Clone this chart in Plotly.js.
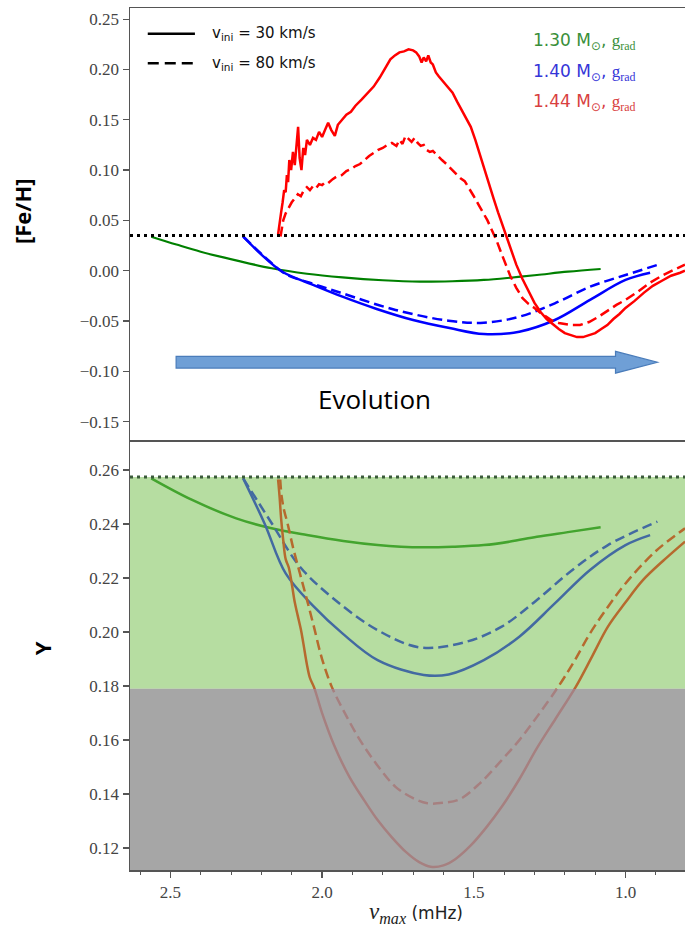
<!DOCTYPE html>
<html><head><meta charset="utf-8">
<script src="https://cdn.plot.ly/plotly-3.0.1.min.js"></script>
<style>html,body{margin:0;padding:0;background:#fff;}#chart{width:685px;height:926px;}</style>
</head><body><div id="chart"></div>
<script>
// ---------- DATA ----------
// Top panel: [Fe/H] vs nu_max (mHz)
const feh_green_30_x = [2.563, 2.48, 2.40, 2.28, 2.166, 2.05, 1.933, 1.80, 1.677, 1.57, 1.467, 1.38, 1.292, 1.19, 1.082];
const feh_green_30_y = [0.0338, 0.026, 0.0189, 0.010, 0.0024, -0.003, -0.0066, -0.0095, -0.0109, -0.0105, -0.0092, -0.007, -0.0043, -0.001, 0.0017];

const feh_blue_30_x = [2.260, 2.20, 2.131, 2.03, 1.933, 1.82, 1.700, 1.58, 1.467, 1.350, 1.233, 1.117, 1.000, 0.919];
const feh_blue_30_y = [0.034, 0.016, -0.001, -0.014, -0.0258, -0.038, -0.049, -0.057, -0.063, -0.0606, -0.049, -0.029, -0.0092, -0.002];

const feh_blue_80_x = [2.260, 2.19, 2.120, 2.03, 1.933, 1.758, 1.583, 1.467, 1.350, 1.233, 1.117, 1.000, 0.895];
const feh_blue_80_y = [0.034, 0.014, -0.0033, -0.013, -0.0225, -0.039, -0.0497, -0.0517, -0.0457, -0.0324, -0.0159, -0.0043, 0.0057];

const feh_red_30_x = [2.145, 2.140, 2.135, 2.130, 2.125, 2.120, 2.116, 2.112, 2.108, 2.102, 2.096, 2.090, 2.084, 2.079, 2.074, 2.068, 2.062, 2.056, 2.050, 2.040, 2.030, 2.020, 2.010, 2.000, 1.990, 1.980, 1.970, 1.958, 1.948, 1.935, 1.920, 1.905, 1.890, 1.870, 1.850, 1.830, 1.810, 1.790, 1.775, 1.760, 1.745, 1.730, 1.715, 1.700, 1.690, 1.680, 1.672, 1.665, 1.657, 1.650, 1.642, 1.635, 1.625, 1.615, 1.600, 1.585, 1.570, 1.555, 1.540, 1.525, 1.510, 1.495, 1.480, 1.465, 1.450, 1.435, 1.420, 1.400, 1.380, 1.360, 1.340, 1.320, 1.300, 1.280, 1.260, 1.240, 1.220, 1.200, 1.180, 1.160, 1.140, 1.120, 1.100, 1.080, 1.060, 1.040, 1.020, 1.000, 0.970, 0.940, 0.910, 0.880, 0.850, 0.820, 0.804];
const feh_red_30_y = [0.036, 0.045, 0.058, 0.068, 0.080, 0.078, 0.095, 0.088, 0.110, 0.100, 0.118, 0.105, 0.125, 0.143, 0.112, 0.100, 0.122, 0.115, 0.130, 0.125, 0.132, 0.130, 0.138, 0.133, 0.140, 0.147, 0.140, 0.134, 0.145, 0.150, 0.155, 0.158, 0.164, 0.170, 0.176, 0.183, 0.192, 0.202, 0.210, 0.214, 0.217, 0.218, 0.220, 0.219, 0.217, 0.213, 0.207, 0.212, 0.208, 0.214, 0.207, 0.205, 0.197, 0.193, 0.188, 0.183, 0.177, 0.168, 0.160, 0.152, 0.143, 0.130, 0.115, 0.101, 0.087, 0.072, 0.058, 0.040, 0.022, 0.006, -0.008, -0.020, -0.032, -0.041, -0.048, -0.053, -0.058, -0.062, -0.064, -0.066, -0.066, -0.064, -0.062, -0.058, -0.054, -0.048, -0.043, -0.037, -0.030, -0.022, -0.015, -0.010, -0.005, -0.002, 0.000];

const feh_red_80_x = [2.137, 2.133, 2.128, 2.120, 2.110, 2.100, 2.090, 2.080, 2.070, 2.060, 2.050, 2.040, 2.030, 2.020, 2.010, 2.000, 1.990, 1.980, 1.965, 1.950, 1.935, 1.920, 1.905, 1.890, 1.875, 1.860, 1.845, 1.830, 1.815, 1.800, 1.785, 1.770, 1.755, 1.745, 1.735, 1.725, 1.715, 1.705, 1.695, 1.685, 1.675, 1.665, 1.655, 1.645, 1.635, 1.620, 1.605, 1.590, 1.575, 1.560, 1.545, 1.530, 1.515, 1.500, 1.485, 1.470, 1.455, 1.440, 1.425, 1.410, 1.395, 1.380, 1.360, 1.340, 1.320, 1.300, 1.280, 1.260, 1.240, 1.220, 1.200, 1.180, 1.150, 1.120, 1.090, 1.060, 1.030, 1.000, 0.960, 0.920, 0.880, 0.840, 0.804];
const feh_red_80_y = [0.034, 0.042, 0.050, 0.057, 0.063, 0.068, 0.072, 0.076, 0.074, 0.080, 0.083, 0.080, 0.084, 0.082, 0.086, 0.085, 0.088, 0.087, 0.091, 0.094, 0.095, 0.099, 0.101, 0.104, 0.106, 0.110, 0.114, 0.117, 0.120, 0.122, 0.125, 0.127, 0.124, 0.130, 0.126, 0.134, 0.131, 0.128, 0.132, 0.127, 0.124, 0.125, 0.120, 0.118, 0.119, 0.114, 0.110, 0.106, 0.101, 0.097, 0.092, 0.089, 0.082, 0.074, 0.066, 0.058, 0.050, 0.040, 0.030, 0.018, 0.006, -0.005, -0.017, -0.027, -0.033, -0.037, -0.042, -0.046, -0.050, -0.052, -0.053, -0.054, -0.054, -0.051, -0.046, -0.040, -0.034, -0.029, -0.021, -0.012, -0.005, 0.001, 0.006];

// Bottom panel: Y (helium) vs nu_max
const y_green_30_x = [2.563, 2.43, 2.283, 2.17, 2.050, 1.93, 1.817, 1.74, 1.665, 1.57, 1.467, 1.38, 1.292, 1.19, 1.082];
const y_green_30_y = [0.2569, 0.2490, 0.2421, 0.2385, 0.2359, 0.2337, 0.2322, 0.2316, 0.2314, 0.2316, 0.2322, 0.2335, 0.2353, 0.2370, 0.2388];

const y_blue_30_x = [2.260, 2.190, 2.120, 2.027, 1.933, 1.817, 1.665, 1.583, 1.467, 1.350, 1.233, 1.117, 1.000, 0.919];
const y_blue_30_y = [0.2569, 0.2403, 0.2217, 0.2094, 0.1995, 0.1896, 0.1841, 0.1843, 0.1896, 0.1983, 0.2106, 0.2230, 0.2322, 0.2359];

const y_blue_80_x = [2.260, 2.166, 2.073, 1.957, 1.817, 1.677, 1.525, 1.408, 1.292, 1.175, 1.058, 0.895];
const y_blue_80_y = [0.2569, 0.2403, 0.2242, 0.2119, 0.2007, 0.1943, 0.1964, 0.2020, 0.2119, 0.2230, 0.2322, 0.2409];

const y_red_30_x = [2.145, 2.140, 2.135, 2.128, 2.120, 2.110, 2.100, 2.090, 2.080, 2.070, 2.062, 2.050, 2.040, 2.027, 2.000, 1.960, 1.910, 1.860, 1.817, 1.770, 1.723, 1.680, 1.642, 1.600, 1.560, 1.510, 1.460, 1.408, 1.350, 1.292, 1.230, 1.164, 1.110, 1.058, 1.000, 0.942, 0.870, 0.804];
const y_red_30_y = [0.2565, 0.2500, 0.2420, 0.2340, 0.2270, 0.2240, 0.2180, 0.2110, 0.2060, 0.2010, 0.1960, 0.1880, 0.1830, 0.1797, 0.1700, 0.1580, 0.1464, 0.1375, 0.1304, 0.1240, 0.1185, 0.1148, 0.1131, 0.1136, 0.1160, 0.1210, 0.1275, 0.1353, 0.1455, 0.1570, 0.1680, 0.1797, 0.1910, 0.2020, 0.2110, 0.2193, 0.2270, 0.2335];

const y_red_80_x = [2.138, 2.133, 2.125, 2.114, 2.095, 2.073, 2.050, 2.027, 2.000, 1.968, 1.925, 1.875, 1.820, 1.758, 1.700, 1.653, 1.600, 1.548, 1.480, 1.408, 1.350, 1.292, 1.222, 1.170, 1.117, 1.060, 1.000, 0.900, 0.804];
const y_red_80_y = [0.2565, 0.2500, 0.2450, 0.2403, 0.2310, 0.2217, 0.2120, 0.2020, 0.1900, 0.1797, 0.1700, 0.1600, 0.1510, 0.1427, 0.1385, 0.1366, 0.1368, 0.1380, 0.1440, 0.1526, 0.1600, 0.1686, 0.1797, 0.1890, 0.1995, 0.2090, 0.2180, 0.2300, 0.2384];

// Reference levels and bands
const FEH_REF = 0.035;
const Y_REF = 0.2574;
const Y_BAND_LOW = 0.179;
const Y_AXIS_MIN = 0.1119;

// Evolution arrow (data coords of the top panel)
const ARROW_X = [2.481, 1.033, 0.895];       // tail, head base, tip
const ARROW_Y = [-0.091, 0.0058, 0.0108];    // centre, half body, half head

const X_RANGE = [2.633, 0.804];
const FEH_RANGE = [-0.1683, 0.2611];
const Y_RANGE = [Y_AXIS_MIN, 0.2711];

const X_TICKS = [2.5, 2.0, 1.5, 1.0];

// ---------- STYLE ----------
const GREEN = '#008000', BLUE = '#0000ff', RED = '#ff0000';
const DASH = '10px,5px';
function tr(x, y, color, dash, xa, ya, w, shape) {
  return {x: x, y: y, xaxis: xa, yaxis: ya, type: 'scatter', mode: 'lines',
    line: {color: color, width: w || 2.5, dash: dash || 'solid', shape: shape || 'linear', smoothing: 1},
    hoverinfo: 'skip', showlegend: false};
}
const traces = [
  tr(feh_green_30_x, feh_green_30_y, GREEN, null, 'x2', 'y2', 2.2, 'spline'),
  tr(feh_blue_30_x, feh_blue_30_y, BLUE, null, 'x2', 'y2', 2.5, 'spline'),
  tr(feh_blue_80_x, feh_blue_80_y, BLUE, DASH, 'x2', 'y2', 2.5, 'spline'),
  tr(feh_red_30_x, feh_red_30_y, RED, null, 'x2', 'y2', 2.5),
  tr(feh_red_80_x, feh_red_80_y, RED, DASH, 'x2', 'y2', 2.5),
  tr(y_green_30_x, y_green_30_y, GREEN, null, 'x', 'y', 2.5, 'spline'),
  tr(y_blue_30_x, y_blue_30_y, BLUE, null, 'x', 'y', 2.5, 'spline'),
  tr(y_blue_80_x, y_blue_80_y, BLUE, DASH, 'x', 'y', 2.5, 'spline'),
  tr(y_red_30_x, y_red_30_y, RED, null, 'x', 'y', 2.5, 'spline'),
  tr(y_red_80_x, y_red_80_y, RED, DASH, 'x', 'y', 2.5, 'spline')
];

const ax0 = ARROW_X[0], ax1 = ARROW_X[1], ax2 = ARROW_X[2];
const ayc = ARROW_Y[0], ab = ARROW_Y[1], ah = ARROW_Y[2];
const arrowPath = `M${ax0},${ayc + ab} L${ax1},${ayc + ab} L${ax1},${ayc + ah} L${ax2},${ayc} L${ax1},${ayc - ah} L${ax1},${ayc - ab} L${ax0},${ayc - ab} Z`;

const shapes = [
  // green band (semi-transparent, over the curves)
  {type: 'rect', xref: 'x domain', yref: 'y', x0: 0, x1: 1, y0: Y_BAND_LOW, y1: Y_REF,
   fillcolor: 'rgba(122,193,84,0.55)', line: {width: 0}, layer: 'above'},
  // grey band
  {type: 'rect', xref: 'x domain', yref: 'y', x0: 0, x1: 1, y0: Y_AXIS_MIN, y1: Y_BAND_LOW,
   fillcolor: 'rgba(150,150,150,0.85)', line: {width: 0}, layer: 'above'},
  // dotted reference lines
  {type: 'line', xref: 'x domain', yref: 'y', x0: 0, x1: 1, y0: Y_REF, y1: Y_REF,
   line: {color: '#3a5a3a', width: 3, dash: '3px,4px'}, layer: 'above'},
  {type: 'line', xref: 'x2 domain', yref: 'y2', x0: 0, x1: 1, y0: FEH_REF, y1: FEH_REF,
   line: {color: '#000', width: 3, dash: '3px,4px'}, layer: 'above'},
  // evolution arrow
  {type: 'path', xref: 'x2', yref: 'y2', path: arrowPath,
   fillcolor: '#6f9fd6', line: {color: '#4a7cba', width: 1.2}, layer: 'above'},
  // legend samples
  {type: 'line', xref: 'paper', yref: 'paper', x0: 0.032, x1: 0.117, y0: 0.970, y1: 0.970,
   line: {color: '#000', width: 2.5}},
  {type: 'line', xref: 'paper', yref: 'paper', x0: 0.032, x1: 0.117, y0: 0.936, y1: 0.936,
   line: {color: '#000', width: 2.5, dash: '11px,6px'}}
];

const legFont = {family: 'DejaVu Sans', size: 15, color: '#111'};
const massText = m => m + ' M<sub>⊙</sub>, <span style="font-family:Liberation Serif">g<sub>rad</sub></span>';
const annotations = [
  {xref: 'paper', yref: 'paper', x: 0.144, y: 0.970, xanchor: 'left', yanchor: 'middle', showarrow: false,
   text: 'v<sub>ini</sub> = 30 km/s', font: legFont},
  {xref: 'paper', yref: 'paper', x: 0.144, y: 0.936, xanchor: 'left', yanchor: 'middle', showarrow: false,
   text: 'v<sub>ini</sub> = 80 km/s', font: legFont},
  {xref: 'paper', yref: 'paper', x: 0.723, y: 0.961, xanchor: 'left', yanchor: 'middle', showarrow: false,
   text: massText('1.30'), font: {family: 'DejaVu Sans', size: 17, color: '#3a8f3a'}},
  {xref: 'paper', yref: 'paper', x: 0.723, y: 0.925, xanchor: 'left', yanchor: 'middle', showarrow: false,
   text: massText('1.40'), font: {family: 'DejaVu Sans', size: 17, color: '#3535d8'}},
  {xref: 'paper', yref: 'paper', x: 0.723, y: 0.890, xanchor: 'left', yanchor: 'middle', showarrow: false,
   text: massText('1.44'), font: {family: 'DejaVu Sans', size: 17, color: '#d84040'}},
  {xref: 'x2', yref: 'y2', x: 1.826, y: -0.128, xanchor: 'center', yanchor: 'middle', showarrow: false,
   text: 'Evolution', font: {family: 'Open Sans', size: 26, color: '#000'}},
  // axis titles
  {xref: 'paper', yref: 'paper', x: -0.1946, y: 0.7645, xanchor: 'center', yanchor: 'middle', showarrow: false,
   textangle: -90, text: '<b>[Fe/H]</b>', font: {family: 'Open Sans', size: 22, color: '#000'}},
  {xref: 'paper', yref: 'paper', x: -0.158, y: 0.2575, xanchor: 'center', yanchor: 'middle', showarrow: false,
   textangle: -90, text: '<b>Y</b>', font: {family: 'Open Sans', size: 22, color: '#000'}},
  {xref: 'paper', yref: 'paper', x: 0.515, y: -0.050, xanchor: 'center', yanchor: 'middle', showarrow: false,
   text: '<span style="font-family:Liberation Serif;font-size:23px"><i>ν</i><sub><i>max</i></sub></span> (mHz)',
   font: {family: 'DejaVu Sans', size: 17, color: '#222'}}
];

const tickFont = {family: 'Liberation Serif', size: 17, color: '#444'};
const LINEC = '#555';
const layout = {
  width: 685, height: 926,
  margin: {l: 130, r: 0, t: 8, b: 56},
  paper_bgcolor: '#fff', plot_bgcolor: '#fff',
  showlegend: false,
  xaxis: {domain: [0, 1], anchor: 'y', range: X_RANGE, autorange: false,
    tickvals: X_TICKS, ticktext: X_TICKS.map(v => v.toFixed(1)), ticks: 'outside', ticklen: 6, tickwidth: 1.3, tickcolor: LINEC,
    minor: {dtick: 0.1, tick0: 0, ticks: 'outside', ticklen: 3, tickwidth: 1, tickcolor: LINEC, showgrid: false},
    showline: true, linecolor: LINEC, linewidth: 1.5, mirror: false, showgrid: false, zeroline: false,
    tickfont: tickFont},
  yaxis: {domain: [0, 0.4988], anchor: 'x', range: Y_RANGE, autorange: false,
    dtick: 0.02, tick0: 0, tickformat: '.2f', ticks: 'outside', ticklen: 6, tickwidth: 1.3, tickcolor: LINEC,
    showline: true, linecolor: LINEC, linewidth: 1.5, showgrid: false, zeroline: false, tickfont: tickFont},
  xaxis2: {domain: [0, 1], anchor: 'y2', matches: 'x', range: X_RANGE, autorange: false,
    showticklabels: false, ticks: '', showline: true, linecolor: LINEC, linewidth: 1.5, mirror: true,
    showgrid: false, zeroline: false},
  yaxis2: {domain: [0.4988, 1], anchor: 'x2', range: FEH_RANGE, autorange: false,
    dtick: 0.05, tick0: 0, tickformat: '.2f', ticks: 'outside', ticklen: 6, tickwidth: 1.3, tickcolor: LINEC,
    showline: true, linecolor: LINEC, linewidth: 1.5, showgrid: false, zeroline: false, tickfont: tickFont},
  shapes: shapes,
  annotations: annotations
};

Plotly.newPlot('chart', traces, layout, {staticPlot: true, displayModeBar: false});
</script>
</body></html>
